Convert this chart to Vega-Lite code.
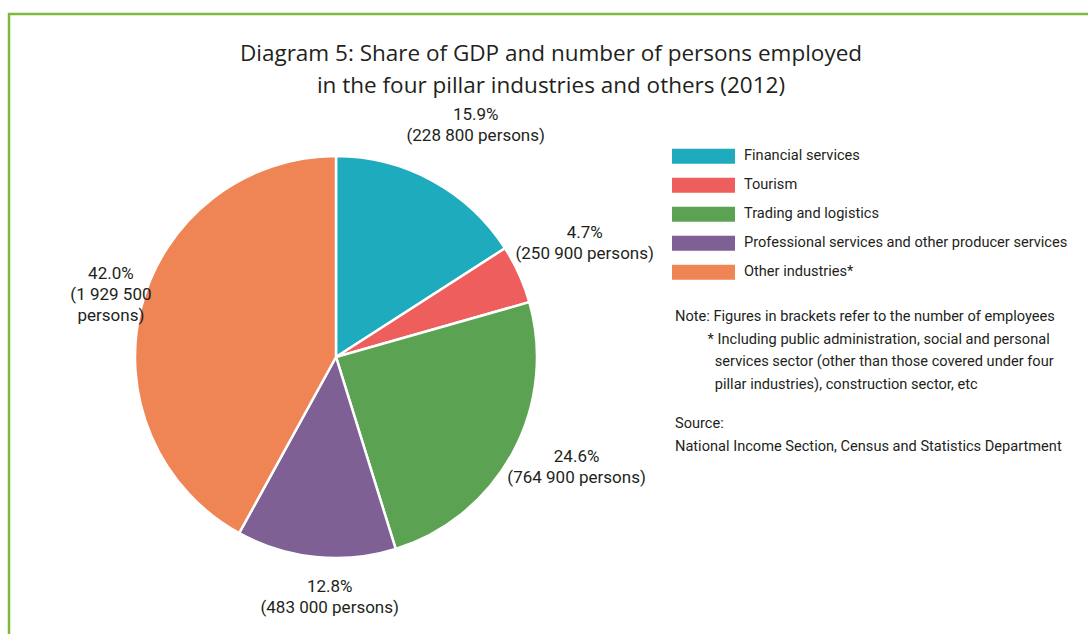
{
  "$schema": "https://vega.github.io/schema/vega-lite/v6.json",
  "autosize": "none",
  "width": 1084,
  "height": 625,
  "padding": {"left": 9, "top": 14, "right": -5, "bottom": -5},
  "background": "#ffffff",
  "view": {"stroke": "#7dba3c", "strokeWidth": 2.5, "fill": null},
  "title": {
    "text": ["Diagram 5: Share of GDP and number of persons employed", "in the four pillar industries and others (2012)"],
    "frame": "group",
    "anchor": "middle",
    "orient": "top",
    "offset": -101,
    "baseline": "alphabetic",
    "font": "Open Sans",
    "fontSize": 22.5,
    "fontWeight": "normal",
    "color": "#231f20",
    "lineHeight": 32
  },
  "datasets": {
    "shares": [
      {"industry": "Financial services", "share": 15.9, "rank": 1, "label": "15.9%\n(228 800 persons)"},
      {"industry": "Tourism", "share": 4.7, "rank": 2, "label": "4.7%\n(250 900 persons)"},
      {"industry": "Trading and logistics", "share": 24.6, "rank": 3, "label": "24.6%\n(764 900 persons)"},
      {"industry": "Professional services and other producer services", "share": 12.8, "rank": 4, "label": "12.8%\n(483 000 persons)"},
      {"industry": "Other industries*", "share": 42.0, "rank": 5, "label": "42.0%\n(1 929 500\npersons)"}
    ],
    "notes": [
      {"block": "note", "text": "Note: Figures in brackets refer to the number of employees\n\u200b\u00a0\u00a0\u00a0\u00a0\u00a0\u00a0\u00a0\u00a0\u00a0* Including public administration, social and personal\n\u200b\u00a0\u00a0\u00a0\u00a0\u00a0\u00a0\u00a0\u00a0\u00a0\u00a0\u00a0services sector (other than those covered under four\n\u200b\u00a0\u00a0\u00a0\u00a0\u00a0\u00a0\u00a0\u00a0\u00a0\u00a0\u00a0pillar industries), construction sector, etc"},
      {"block": "source", "text": "Source:\nNational Income Section, Census and Statistics Department"}
    ]
  },
  "layer": [
    {
      "data": {"name": "shares"},
      "mark": {"type": "arc", "outerRadius": 201, "stroke": "#ffffff", "strokeWidth": 2.5},
      "encoding": {
        "x": {"value": 327},
        "y": {"value": 343},
        "theta": {"field": "share", "type": "quantitative", "stack": true},
        "order": {"field": "rank", "type": "quantitative"},
        "color": {
          "field": "industry",
          "type": "nominal",
          "scale": {
            "domain": ["Financial services", "Tourism", "Trading and logistics", "Professional services and other producer services", "Other industries*"],
            "range": ["#1eabbe", "#ee5e5d", "#5ba353", "#7f6094", "#ef8454"]
          },
          "legend": {
            "orient": "none",
            "legendX": 663,
            "legendY": 128,
            "title": null,
            "symbolType": "M-1,-0.24H1V0.24H-1Z",
            "symbolSize": 3969,
            "symbolStrokeWidth": 0,
            "symbolOpacity": 1,
            "clipHeight": 28.4,
            "labelFont": "Roboto",
            "labelFontSize": 14.6,
            "labelColor": "#231f20",
            "labelOffset": 9,
            "rowPadding": 0,
            "labelLimit": 600
          }
        }
      }
    },
    {
      "data": {"name": "shares"},
      "mark": {"type": "text", "radius": 252, "dy": -10.5, "lineBreak": "\n", "lineHeight": 21, "font": "Roboto", "fontSize": 17, "color": "#231f20", "align": "center", "baseline": "middle"},
      "encoding": {
        "x": {"value": 346},
        "y": {"value": 333},
        "theta": {"field": "share", "type": "quantitative", "stack": true},
        "order": {"field": "rank", "type": "quantitative"},
        "text": {"field": "label", "type": "nominal"}
      }
    },
    {
      "data": {"name": "notes"},
      "mark": {"type": "text", "lineBreak": "\n", "lineHeight": 22.5, "font": "Roboto", "fontSize": 14.6, "color": "#231f20", "align": "left", "baseline": "alphabetic"},
      "encoding": {
        "x": {"value": 666},
        "y": {"field": "block", "type": "nominal", "scale": {"type": "point", "domain": ["note", "source"], "range": [307, 414], "padding": 0}, "axis": null},
        "text": {"field": "text", "type": "nominal"}
      }
    }
  ]
}
